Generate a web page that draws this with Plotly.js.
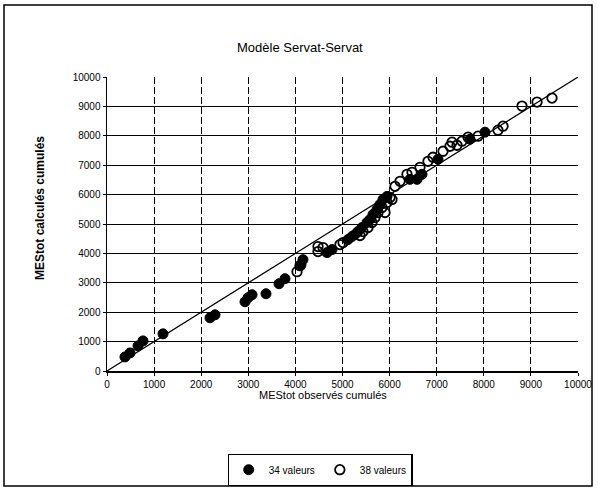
<!DOCTYPE html>
<html>
<head>
<meta charset="utf-8">
<script src="https://cdn.plot.ly/plotly-3.0.1.min.js"></script>
<style>html,body{margin:0;padding:0;background:#fff;}#chart{width:598px;height:489px;}</style>
</head>
<body>
<div id="chart"></div>
<script>
// Série 1 : 34 valeurs (points pleins)
const obs34 = [382, 488, 658, 764, 1189, 2187, 2293, 2930, 2994, 3079, 3376, 3652, 3779, 4119, 4161, 4671, 4777, 5117, 5202, 5265, 5329, 5414, 5520, 5584, 5648, 5732, 5796, 5860, 5945, 6433, 6582, 6688, 7028, 7707, 8025];
const calc34 = [478, 614, 853, 1024, 1263, 1809, 1911, 2355, 2491, 2594, 2628, 2969, 3140, 3618, 3788, 4027, 4130, 4471, 4573, 4642, 4744, 4881, 5051, 5154, 5324, 5495, 5666, 5836, 5939, 6519, 6519, 6689, 7201, 7884, 8123];
// Série 2 : 38 valeurs (points vides)
const obs38 = [4034, 4098, 4480, 4480, 4586, 4947, 5011, 5372, 5435, 5541, 5626, 5690, 5754, 5839, 5902, 5945, 6008, 6051, 6115, 6221, 6369, 6476, 6645, 6815, 6921, 7134, 7282, 7325, 7431, 7537, 7665, 7877, 8301, 8408, 8811, 9130, 9448];
const calc38 = [3379, 3584, 4061, 4232, 4198, 4300, 4369, 4608, 4744, 4881, 5051, 5222, 5392, 5563, 5392, 5734, 5904, 5836, 6280, 6451, 6689, 6758, 6928, 7133, 7270, 7474, 7645, 7782, 7679, 7816, 7952, 7986, 8191, 8328, 9010, 9147, 9283];
// Droite 1:1
const diagX = [0, 10000];
const diagY = [0, 10000];
// Graduations
const tickVals = [0, 1000, 2000, 3000, 4000, 5000, 6000, 7000, 8000, 9000, 10000];
const tickText = ['0', '1000', '2000', '3000', '4000', '5000', '6000', '7000', '8000', '9000', '10000'];

const titleText = 'Modèle Servat-Servat';
const xTitle = 'MEStot observés cumulés';
const yTitle = 'MEStot calculés cumulés';
const name34 = '34 valeurs';
const name38 = '38 valeurs';

const font = 'Liberation Sans, Arial, sans-serif';

const traces = [
  {x: diagX, y: diagY, mode: 'lines', line: {color: '#000', width: 1.2}, showlegend: false, hoverinfo: 'skip'},
  {x: obs34, y: calc34, mode: 'markers', name: name34,
   marker: {symbol: 'circle', size: 10, color: '#000', line: {color: '#000', width: 1}}},
  {x: obs38, y: calc38, mode: 'markers', name: name38,
   marker: {symbol: 'circle-open', size: 9.5, color: '#000', line: {color: '#000', width: 1.8}}}
];

const L = 107, R = 20, T = 77, B = 118;
const pw = 598 - L - R, ph = 489 - T - B;
const px = v => (v - L) / pw;
const py = v => (489 - B - v) / ph;

const axisCommon = {
  range: [0, 10000], tickmode: 'array', tickvals: tickVals, ticktext: tickText,
  showgrid: true, gridcolor: '#000', gridwidth: 1,
  showline: true, linecolor: '#000', linewidth: 1.5,
  ticks: 'outside', ticklen: 3, tickcolor: '#000',
  tickfont: {family: font, size: 10, color: '#000'},
  zeroline: false, fixedrange: true
};

const layout = {
  width: 598, height: 489,
  margin: {l: L, r: R, t: T, b: B, pad: 0},
  paper_bgcolor: '#fff', plot_bgcolor: '#fff',
  font: {family: font, size: 11, color: '#000'},
  showlegend: true,
  xaxis: Object.assign({}, axisCommon, {griddash: '7px,3px'}),
  yaxis: Object.assign({}, axisCommon, {griddash: 'solid'}),
  annotations: [
    {text: titleText, xref: 'paper', yref: 'paper', x: px(300), y: py(47), xanchor: 'center', yanchor: 'middle', showarrow: false,
     font: {family: font, size: 13, color: '#000'}},
    {text: xTitle, xref: 'paper', yref: 'paper', x: px(323), y: py(395), xanchor: 'center', yanchor: 'middle', showarrow: false,
     font: {family: font, size: 11, color: '#000'}},
    {text: '<b>' + yTitle + '</b>', xref: 'paper', yref: 'paper', x: px(40), y: py(208), xanchor: 'center', yanchor: 'middle', showarrow: false,
     textangle: -90, font: {family: font, size: 12, color: '#000'}}
  ],
  legend: {
    orientation: 'h', xref: 'container', yref: 'container',
    x: 320 / 598, y: (489 - 454) / 489, xanchor: 'center', yanchor: 'top',
    bordercolor: '#000', borderwidth: 1.2, bgcolor: '#fff',
    font: {family: font, size: 10, color: '#000'},
    itemwidth: 30, tracegroupgap: 0
  },
  shapes: [
    {type: 'rect', xref: 'paper', yref: 'paper', x0: px(4), x1: px(592), y0: py(5), y1: py(486),
     line: {color: '#000', width: 1.5}, fillcolor: 'rgba(0,0,0,0)', layer: 'below'}
  ]
};

Plotly.newPlot('chart', traces, layout, {displayModeBar: false, staticPlot: true});
</script>
</body>
</html>
